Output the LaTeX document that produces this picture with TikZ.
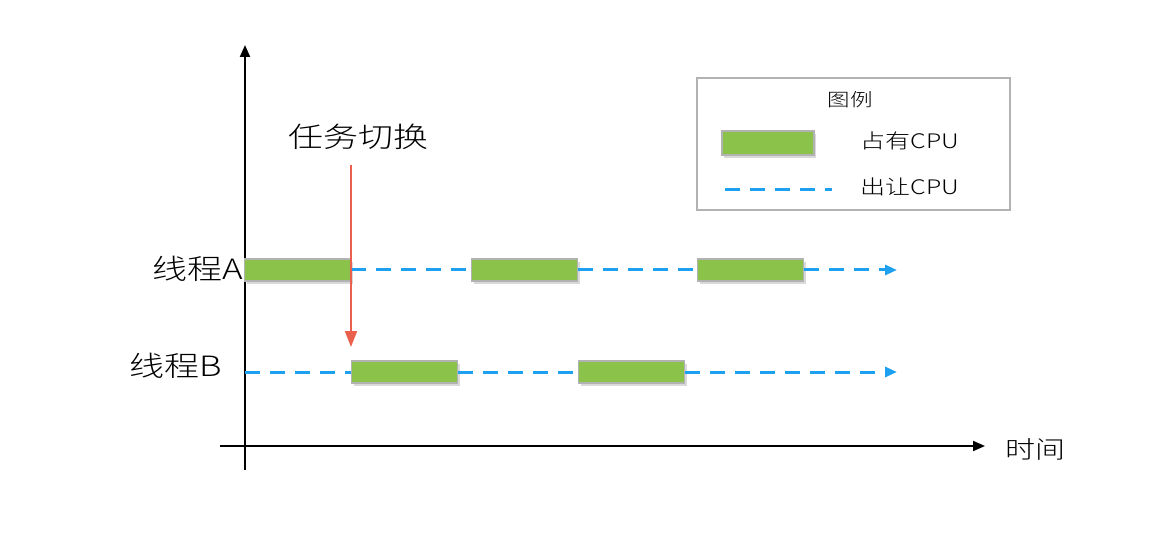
\documentclass[tikz,border=0pt]{standalone}
\usepackage{fontspec}
\setmainfont{Noto Sans CJK SC}
\newfontfamily\handfont[FakeStretch=1.25]{Noto Sans CJK SC Light}
\usetikzlibrary{arrows.meta,shadows}
\definecolor{busy}{RGB}{139,195,74}
\definecolor{idle}{RGB}{30,160,240}
\definecolor{switchred}{RGB}{234,96,76}
\tikzset{
  run/.style={draw=gray!60,line width=0.6pt,fill=busy,minimum width=53pt,minimum height=11pt,
    inner sep=0pt,drop shadow={shadow xshift=1pt,shadow yshift=-1.5pt,opacity=0.3}},
  wait/.style={idle,line width=1.5pt,dash pattern=on 7.5pt off 5pt},
  axis/.style={line width=1pt,-{Triangle[length=6pt,width=5pt]}},
  txt/.style={inner sep=0pt,font=\handfont\fontsize{#1}{#1}\selectfont}
}
\begin{document}
\begin{tikzpicture}[x=0.5pt,y=0.5pt]
  \useasboundingbox (0,0) rectangle (1156,536);
  % axes
  \coordinate (o1) at (245,66);
  \coordinate (yt) at (245,491);
  \coordinate (o2) at (220,90);
  \coordinate (xt) at (985,90);
  \draw[axis] (o1)--(yt);
  \draw[axis] (o2)--(xt);
  \node[txt=12,anchor=west] (time) at (1005,87) {时间};
  % threads
  \node[txt=14,anchor=east] (ta) at (243,267) {线程A};
  \node[txt=14,anchor=east] (tb) at (222,170) {线程B};
  \node[run] (a1) at (297.5,266) {};
  \node[run] (a2) at (524.5,266) {};
  \node[run] (a3) at (750.5,266) {};
  \node[run] (b1) at (404.5,164) {};
  \node[run] (b2) at (631.5,164) {};
  \coordinate (ae) at (897,266);
  \coordinate (bs) at (245,164);
  \coordinate (be) at (897,164);
  \draw[wait] (a1.east)--(a2.west);
  \draw[wait] (a2.east)--(a3.west);
  \draw[wait,-{Triangle[length=6pt,width=5pt]}] (a3.east)--(ae);
  \draw[wait] (bs)--(b1.west);
  \draw[wait] (b1.east)--(b2.west);
  \draw[wait,-{Triangle[length=6pt,width=5pt]}] (b2.east)--(be);
  % switch
  \node[txt=14,anchor=west] (sw) at (288,399) {任务切换};
  \coordinate (s1) at (351,371);
  \coordinate (s2) at (351,189);
  \draw[switchred,line width=1pt,-{Triangle[length=8pt,width=6pt]}] (s1)--(s2);
  % legend
  \node[draw=gray!60,line width=0.6pt,minimum width=156.5pt,minimum height=66pt,inner sep=0pt] (box) at (853.5,392) {};
  \node[txt=9] (lt) at (850,436) {图例};
  \node[run,minimum width=46pt,minimum height=12pt] (lg) at (768,393) {};
  \node[txt=10,anchor=west] (l1) at (860,395) {占有CPU};
  \coordinate (d1) at (725,346);
  \coordinate (d2) at (832,346);
  \draw[wait] (d1)--(d2);
  \node[txt=10,anchor=west] (l2) at (860,349) {出让CPU};
\end{tikzpicture}
\end{document}
